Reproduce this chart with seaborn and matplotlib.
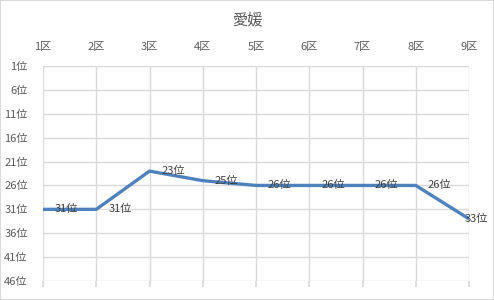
import matplotlib
matplotlib.use("Agg")
import matplotlib.pyplot as plt
import seaborn as sns
import pandas as pd

districts = ["1区", "2区", "3区", "4区", "5区", "6区", "7区", "8区", "9区"]
ranks = [31, 31, 23, 25, 26, 26, 26, 26, 33]
y_ticks = [1, 6, 11, 16, 21, 26, 31, 36, 41, 46]
title = "愛媛"

sns.set_theme(style="white")
plt.rcParams["font.family"] = ["Noto Sans CJK JP", "DejaVu Sans"]

df = pd.DataFrame({"x": list(range(1, len(districts) + 1)), "rank": ranks})

fig = plt.figure(figsize=(4.94, 3.0), dpi=100)
fig.patch.set_facecolor("white")
fig.patches.append(plt.Rectangle((0, 0), 1, 1, transform=fig.transFigure,
                                 fill=False, edgecolor="#D9D9D9", linewidth=1.5))
ax = fig.add_axes([43 / 494, 19 / 300, 426 / 494, 215 / 300])

sns.lineplot(data=df, x="x", y="rank", ax=ax, color="#4F81BD", linewidth=2.4)

ax.set_xlim(1, len(districts))
ax.set_ylim(46, 1)
ax.set_xticks(df["x"])
ax.set_xticklabels(districts)
ax.set_yticks(y_ticks)
ax.set_yticklabels([f"{v}位" for v in y_ticks])
ax.set_xlabel("")
ax.set_ylabel("")
ax.grid(True, color="#D9D9D9", linewidth=1)
ax.set_axisbelow(True)
for s in ax.spines.values():
    s.set_visible(False)
ax.tick_params(axis="x", bottom=True, top=False, labelbottom=False, labeltop=True,
               length=4, color="#D9D9D9", labelsize=8, labelcolor="#595959", pad=6)
ax.tick_params(axis="y", left=False, labelsize=8, labelcolor="#595959", pad=5)

for i, (xv, r) in enumerate(zip(df["x"], ranks)):
    dx = 12 if i < len(ranks) - 1 else -4
    ax.annotate(f"{r}位", (xv, r), xytext=(dx, 0), textcoords="offset pixels",
                ha="left", va="center", fontsize=8, color="#404040",
                annotation_clip=False)

fig.text(0.5, 1 - 20 / 300, title, ha="center", va="center", fontsize=11, color="#595959")

fig.savefig("out.png", dpi=100)
